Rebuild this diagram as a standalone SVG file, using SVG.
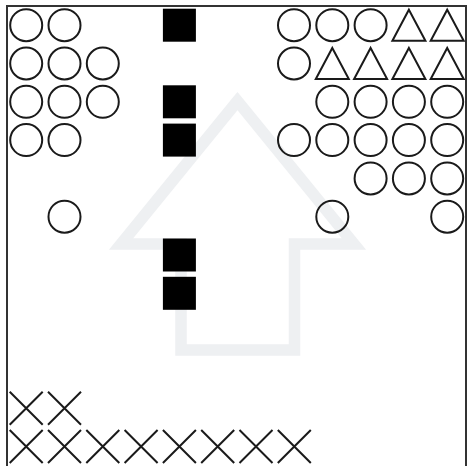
<svg xmlns="http://www.w3.org/2000/svg" width="468" height="466" viewBox="0 0 468 466">
<defs>
<style>
.c{fill:none;stroke:#1a1a1a;stroke-width:2}
.t{fill:none;stroke:#1a1a1a;stroke-width:2;stroke-linejoin:miter}
.x{stroke:#1a1a1a;stroke-width:2}
.s{fill:#000}
.arrow{fill:none;stroke:#eef0f2;stroke-width:11.5;stroke-linejoin:miter}
</style>
<circle id="circ" class="c" r="16"/>
<path id="tri" class="t" d="M0,-15.5 L16.5,15.5 L-16.5,15.5 Z"/>
<path id="ex" class="x" d="M-16.5,-16.5 L16.5,16.5 M16.5,-16.5 L-16.5,16.5"/>
<rect id="sq" class="s" x="-16.5" y="-16.5" width="33" height="33"/>
</defs>
<rect x="0" y="0" width="468" height="466" fill="#fff"/>
<g id="arrow">
<polygon class="arrow" points="237.5,101 121,244 181,244 181,350 294.5,350 294.5,244 354,244"/>
</g>
<rect id="frame" x="7" y="6" width="459" height="470" fill="none" stroke="#333" stroke-width="2"/>
<g id="circles">
<use href="#circ" x="26.2" y="25.2"/><use href="#circ" x="64.5" y="25.2"/>
<use href="#circ" x="294" y="25.2"/><use href="#circ" x="332.3" y="25.2"/><use href="#circ" x="370.6" y="25.2"/>
<use href="#circ" x="26.2" y="63.5"/><use href="#circ" x="64.5" y="63.5"/><use href="#circ" x="102.8" y="63.5"/>
<use href="#circ" x="294" y="63.5"/>
<use href="#circ" x="26.2" y="101.8"/><use href="#circ" x="64.5" y="101.8"/><use href="#circ" x="102.8" y="101.8"/>
<use href="#circ" x="332.3" y="101.8"/><use href="#circ" x="370.6" y="101.8"/><use href="#circ" x="408.9" y="101.8"/><use href="#circ" x="447.2" y="101.8"/>
<use href="#circ" x="26.2" y="140.1"/><use href="#circ" x="64.5" y="140.1"/>
<use href="#circ" x="294" y="140.1"/><use href="#circ" x="332.3" y="140.1"/><use href="#circ" x="370.6" y="140.1"/><use href="#circ" x="408.9" y="140.1"/><use href="#circ" x="447.2" y="140.1"/>
<use href="#circ" x="370.6" y="178.4"/><use href="#circ" x="408.9" y="178.4"/><use href="#circ" x="447.2" y="178.4"/>
<use href="#circ" x="64.5" y="216.7"/><use href="#circ" x="332.3" y="216.7"/><use href="#circ" x="447.2" y="216.7"/>
</g>
<g id="triangles">
<use href="#tri" x="408.9" y="25.2"/><use href="#tri" x="447.2" y="25.2"/>
<use href="#tri" x="332.3" y="63.5"/><use href="#tri" x="370.6" y="63.5"/><use href="#tri" x="408.9" y="63.5"/><use href="#tri" x="447.2" y="63.5"/>
</g>
<g id="squares">
<use href="#sq" x="179.4" y="25.2"/>
<use href="#sq" x="179.4" y="101.8"/>
<use href="#sq" x="179.4" y="140.1"/>
<use href="#sq" x="179.4" y="255"/>
<use href="#sq" x="179.4" y="293.3"/>
</g>
<g id="crosses">
<use href="#ex" x="26.2" y="408.2"/><use href="#ex" x="64.5" y="408.2"/>
<use href="#ex" x="26.2" y="446.5"/><use href="#ex" x="64.5" y="446.5"/><use href="#ex" x="102.8" y="446.5"/><use href="#ex" x="141.1" y="446.5"/><use href="#ex" x="179.4" y="446.5"/><use href="#ex" x="217.7" y="446.5"/><use href="#ex" x="256" y="446.5"/><use href="#ex" x="294.3" y="446.5"/>
</g>
</svg>
